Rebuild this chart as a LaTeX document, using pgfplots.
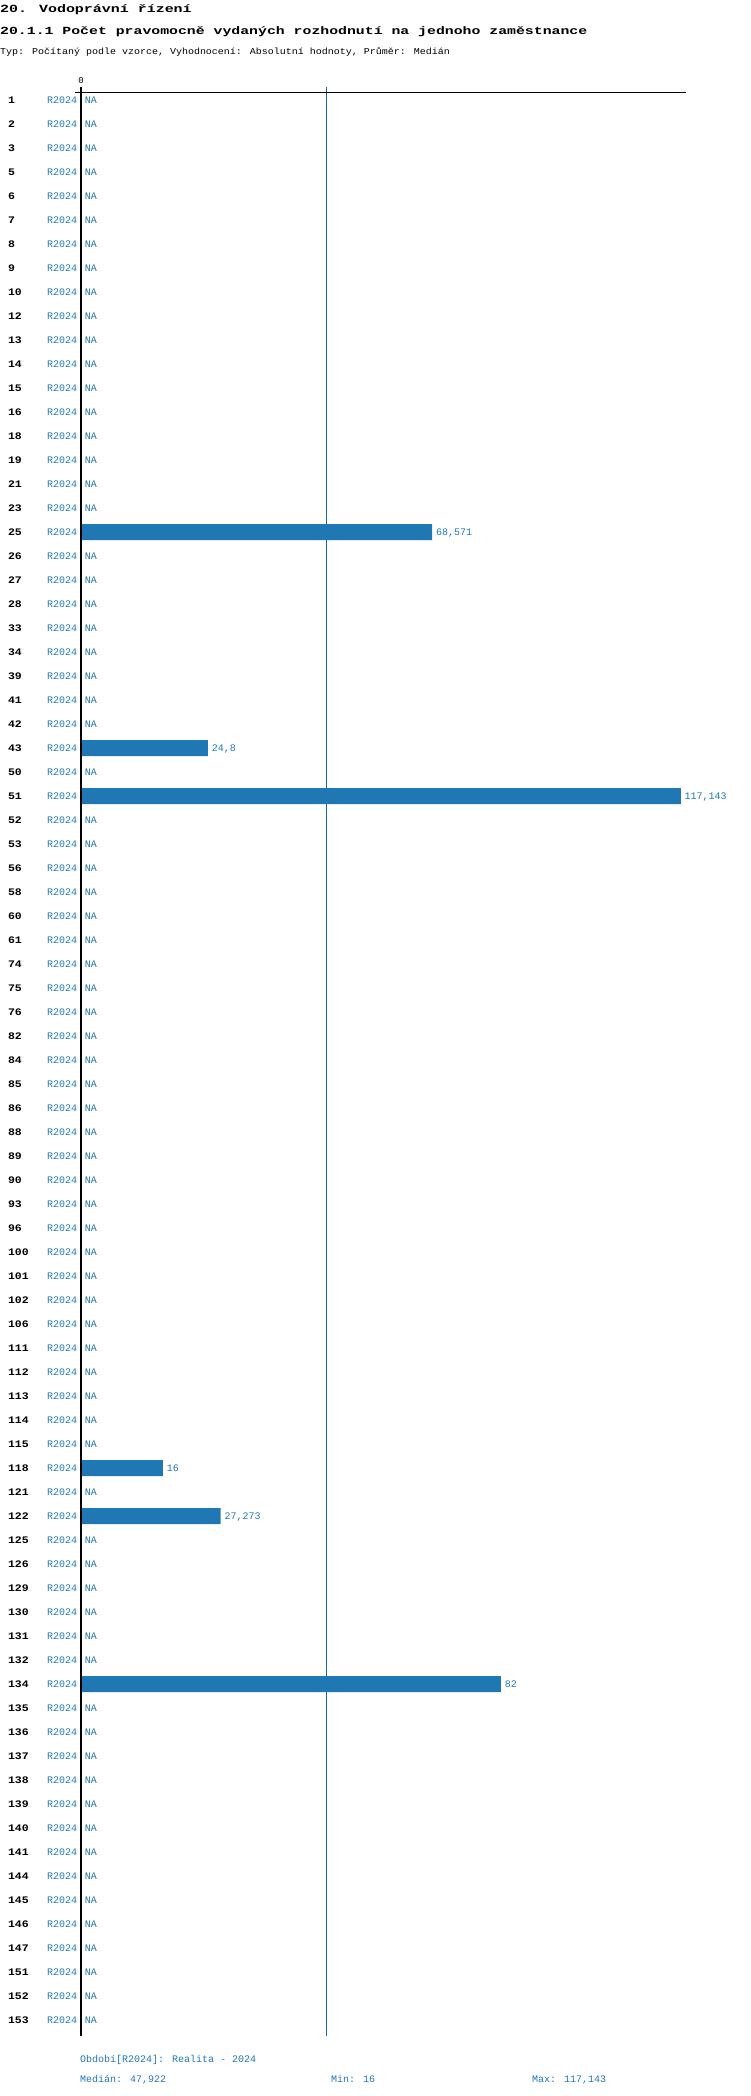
\documentclass[border=0pt]{standalone}
\usepackage{fontspec}
\usepackage{pgfplots}
\usepackage{pgfplotstable}
\pgfplotsset{compat=1.18}
\newfontfamily\smallf{Liberation Mono}
\newfontfamily\subf{Liberation Mono}[FakeStretch=1.11]
\newfontfamily\rowf{Liberation Mono}[FakeStretch=1.15]
\newfontfamily\titlef{Liberation Mono}[FakeStretch=1.36]
\definecolor{cblue}{RGB}{31,119,180}
\newcommand{\rl}[1]{\hbox to 69pt{{\rowf\fontsize{10}{12}\selectfont\bfseries #1}\hfill{\smallf\mdseries\fontsize{10}{12}\selectfont\color{cblue}R2024}}}
\pgfplotstableread{
idx val lab
1 0 NA
2 0 NA
3 0 NA
4 0 NA
5 0 NA
6 0 NA
7 0 NA
8 0 NA
9 0 NA
10 0 NA
11 0 NA
12 0 NA
13 0 NA
14 0 NA
15 0 NA
16 0 NA
17 0 NA
18 0 NA
19 68.571 68,571
20 0 NA
21 0 NA
22 0 NA
23 0 NA
24 0 NA
25 0 NA
26 0 NA
27 0 NA
28 24.8 24,8
29 0 NA
30 117.143 117,143
31 0 NA
32 0 NA
33 0 NA
34 0 NA
35 0 NA
36 0 NA
37 0 NA
38 0 NA
39 0 NA
40 0 NA
41 0 NA
42 0 NA
43 0 NA
44 0 NA
45 0 NA
46 0 NA
47 0 NA
48 0 NA
49 0 NA
50 0 NA
51 0 NA
52 0 NA
53 0 NA
54 0 NA
55 0 NA
56 0 NA
57 0 NA
58 16 16
59 0 NA
60 27.273 27,273
61 0 NA
62 0 NA
63 0 NA
64 0 NA
65 0 NA
66 0 NA
67 82 82
68 0 NA
69 0 NA
70 0 NA
71 0 NA
72 0 NA
73 0 NA
74 0 NA
75 0 NA
76 0 NA
77 0 NA
78 0 NA
79 0 NA
80 0 NA
81 0 NA
}\datatable
\begin{document}
\begin{tikzpicture}[x=1pt,y=1pt]
\useasboundingbox (0,0) rectangle (750,-2096);
\node[anchor=base west, inner sep=0pt, font={\titlef\fontsize{11}{13}\selectfont\bfseries}] at (0,-12.5) {20. Vodoprávní řízení};
\node[anchor=base west, inner sep=0pt, font={\titlef\fontsize{10.9}{13}\selectfont\bfseries}] at (0,-34.3) {20.1.1 Počet pravomocně vydaných rozhodnutí na jednoho zaměstnance};
\node[anchor=base west, inner sep=0pt, font={\subf\fontsize{9}{11}\selectfont}] at (0,-54.3) {Typ: Počítaný podle vzorce, Vyhodnocení: Absolutní hodnoty, Průměr: Medián};
\begin{axis}[
  at={(81pt,-2036pt)}, anchor=south west,
  scale only axis, width=604.7pt, height=1943.7pt,
  xmin=0, xmax=118.1, ymin=0.671, ymax=81.658,
  y dir=reverse, clip=false,
  axis line style={draw=none}, major tick length=0pt,
  xtick=\empty,
  ytick={1,...,81},
  yticklabels={\rl{1},\rl{2},\rl{3},\rl{5},\rl{6},\rl{7},\rl{8},\rl{9},\rl{10},\rl{12},\rl{13},\rl{14},\rl{15},\rl{16},\rl{18},\rl{19},\rl{21},\rl{23},\rl{25},\rl{26},\rl{27},\rl{28},\rl{33},\rl{34},\rl{39},\rl{41},\rl{42},\rl{43},\rl{50},\rl{51},\rl{52},\rl{53},\rl{56},\rl{58},\rl{60},\rl{61},\rl{74},\rl{75},\rl{76},\rl{82},\rl{84},\rl{85},\rl{86},\rl{88},\rl{89},\rl{90},\rl{93},\rl{96},\rl{100},\rl{101},\rl{102},\rl{106},\rl{111},\rl{112},\rl{113},\rl{114},\rl{115},\rl{118},\rl{121},\rl{122},\rl{125},\rl{126},\rl{129},\rl{130},\rl{131},\rl{132},\rl{134},\rl{135},\rl{136},\rl{137},\rl{138},\rl{139},\rl{140},\rl{141},\rl{144},\rl{145},\rl{146},\rl{147},\rl{151},\rl{152},\rl{153}},
  yticklabel style={anchor=east, inner sep=0pt, xshift=-3.7pt, text height=6.6pt, text depth=0pt},
]
\draw[cblue!85!black, line width=0.9pt] (axis cs:47.922,0.4375) -- (axis cs:47.922,81.658);
\addplot[xbar, bar width=16pt, bar shift=0pt, fill=cblue, draw=none,
  point meta=explicit symbolic,
  nodes near coords,
  nodes near coords style={anchor=west, inner sep=0pt, xshift=3.7pt, text height=6.6pt, text depth=0pt, font={\smallf\fontsize{10}{12}\selectfont}, text=cblue}]
  table[x=val, y=idx, meta=lab] {\datatable};
\draw[black, line width=1pt] (axis cs:-1.17,0.671) -- (axis cs:118.1,0.671);
\draw[black, line width=2pt] (axis cs:0,0.4375) -- (axis cs:0,81.658);
\node[anchor=base, inner sep=0pt, font={\smallf\fontsize{9}{11}\selectfont}] at (axis cs:0,0.4375) [yshift=2.7pt] {0};
\end{axis}
\node[anchor=base west, inner sep=0pt, font={\smallf\fontsize{10}{12}\selectfont}, text=cblue] at (80,-2062) {Období[R2024]: Realita - 2024};
\node[anchor=base west, inner sep=0pt, font={\smallf\fontsize{10}{12}\selectfont}, text=cblue] at (80,-2082) {Medián: 47,922};
\node[anchor=base west, inner sep=0pt, font={\smallf\fontsize{10}{12}\selectfont}, text=cblue] at (331,-2082) {Min: 16};
\node[anchor=base west, inner sep=0pt, font={\smallf\fontsize{10}{12}\selectfont}, text=cblue] at (532,-2082) {Max: 117,143};
\end{tikzpicture}
\end{document}
